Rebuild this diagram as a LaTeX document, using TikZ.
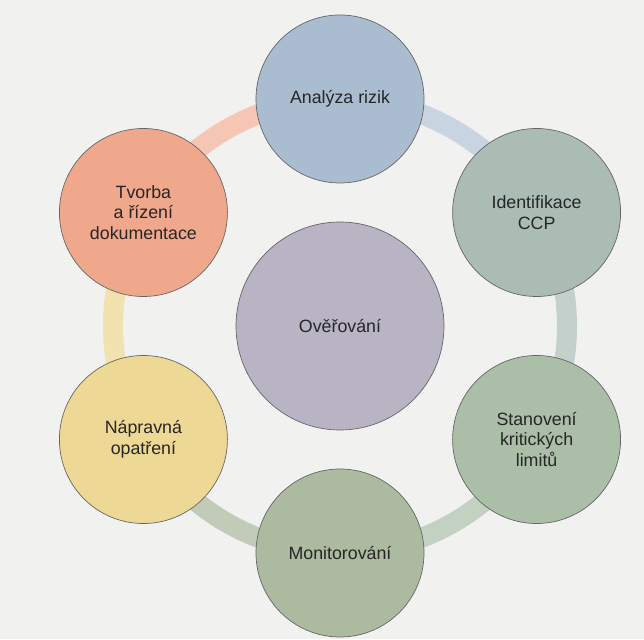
\documentclass[tikz,border=0pt]{standalone}
\usepackage{fontspec}
\setmainfont{Liberation Sans}
\usepackage{xcolor}
\usepackage{tikz}
\usetikzlibrary{calc,backgrounds}

\definecolor{paper}{HTML}{F1F1F0}
\definecolor{ana}{HTML}{AABDD0}
\definecolor{idf}{HTML}{AABCB4}
\definecolor{sta}{HTML}{AABEA8}
\definecolor{mon}{HTML}{ACBAA0}
\definecolor{nap}{HTML}{EED896}
\definecolor{tvo}{HTML}{F0A88C}
\definecolor{ove}{HTML}{B8B4C4}

\begin{document}
\begin{tikzpicture}[
  x=1pt,y=1pt,
  stage/.style={circle,draw=black!60,line width=0.7pt,minimum size=168pt,inner sep=0pt,align=center,
    font=\fontsize{17.8}{20.5}\selectfont,text=black!85},
  core/.style={stage,minimum size=208pt},
  seg/.style={line width=20pt}
]
\useasboundingbox (0,0) rectangle (644,639);
\coordinate (ring) at (340,313);
\node[core,fill=ove] (over) at (ring) {Ověřování};
\node[stage,fill=ana] (anal) at ($(ring)+(90:227pt)$) {Analýza rizik};
\node[stage,fill=idf] (ident) at ($(ring)+(30:227pt)$) {Identifikace\\CCP};
\node[stage,fill=sta] (stan) at ($(ring)+(-30:227pt)$) {Stanovení\\kritických\\limitů};
\node[stage,fill=mon] (monit) at ($(ring)+(-90:227pt)$) {Monitorování};
\node[stage,fill=nap] (naprav) at ($(ring)+(-150:227pt)$) {Nápravná\\opatření};
\node[stage,fill=tvo] (tvorba) at ($(ring)+(150:227pt)$) {Tvorba\\a řízení\\dokumentace};
\begin{scope}[on background layer]
  \fill[paper] (0,0) rectangle (644,639);
  \draw[seg,color=ana!65!white] (anal.center) arc[start angle=90,end angle=30,radius=227pt];
  \draw[seg,color=idf!70!white] (ident.center) arc[start angle=30,end angle=-30,radius=227pt];
  \draw[seg,color=sta!70!white] (stan.center) arc[start angle=-30,end angle=-90,radius=227pt];
  \draw[seg,color=mon!75!white] (monit.center) arc[start angle=-90,end angle=-150,radius=227pt];
  \draw[seg,color=nap!75!white] (naprav.center) arc[start angle=210,end angle=150,radius=227pt];
  \draw[seg,color=tvo!65!white] (tvorba.center) arc[start angle=150,end angle=90,radius=227pt];
\end{scope}
\end{tikzpicture}
\end{document}
